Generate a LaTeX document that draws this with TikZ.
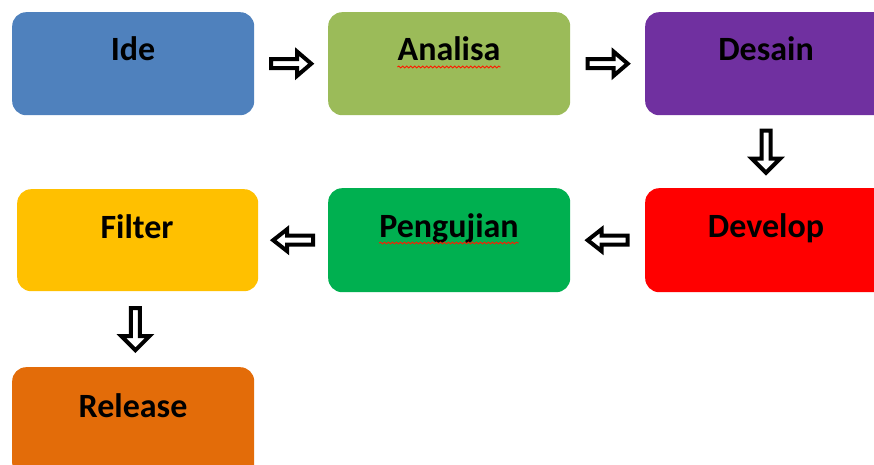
\documentclass[tikz,border=0pt]{standalone}
\usepackage{fontspec}
\setmainfont{Carlito}
\usetikzlibrary{calc,decorations.pathmorphing}

\definecolor{ideblue}{HTML}{4F81BD}
\definecolor{analisagreen}{HTML}{9BBB59}
\definecolor{desainpurple}{HTML}{7030A0}
\definecolor{developred}{HTML}{FF0000}
\definecolor{ujigreen}{HTML}{00B050}
\definecolor{filtergold}{HTML}{FFC000}
\definecolor{releaseorange}{HTML}{E36C09}

\tikzset{
  stage/.style={rounded corners=14pt, minimum width=242pt, minimum height=103pt,
    inner sep=0pt, anchor=north west},
  stagetext/.style={font=\fontsize{34}{40}\selectfont\bfseries, anchor=base,
    text=black, inner sep=0pt},
  flowarrow/.style={draw=black, line width=4pt, fill=white, line join=miter},
  spell/.style={draw=red!80!orange, line width=0.9pt, decorate,
    decoration={snake, amplitude=0.9pt, segment length=4pt}},
  % hollow block arrow; argument: half length, half head width
  pics/blockarrow/.style 2 args={code={
    \draw[flowarrow] (-#1,-4.5) -- (#1-14,-4.5) -- (#1-14,-#2) -- (#1,0)
      -- (#1-14,#2) -- (#1-14,4.5) -- (-#1,4.5) -- cycle;
  }}
}

\begin{document}
\begin{tikzpicture}[x=1pt, y=-1pt]
  \useasboundingbox (0,0) rectangle (874,465);
  \clip (0,0) rectangle (874,465);

  % stage boxes
  \node[stage, fill=ideblue] (ide) at (12,12) {};
  \node[stage, fill=analisagreen] (analisa) at (328,12) {};
  \node[stage, fill=desainpurple, minimum width=250pt] (desain) at (645,12) {};
  \node[stage, fill=developred, minimum width=250pt, minimum height=104pt] (develop) at (645,188) {};
  \node[stage, fill=ujigreen, minimum height=104pt] (pengujian) at (328,188) {};
  \node[stage, fill=filtergold, minimum width=241pt, minimum height=102pt] (filter) at (17,189) {};
  \node[stage, fill=releaseorange, minimum height=110pt] (release) at (12,367) {};

  % stage titles
  \node[stagetext] (idet) at ($(ide.north west)+(121,49)$) {Ide};
  \node[stagetext] (analisat) at ($(analisa.north west)+(121,49)$) {Analisa};
  \node[stagetext] (desaint) at ($(desain.north west)+(121,49)$) {Desain};
  \node[stagetext] (developt) at ($(develop.north west)+(121,49)$) {Develop};
  \node[stagetext] (pengujiant) at ($(pengujian.north west)+(121,49)$) {Pengujian};
  \node[stagetext] (filtert) at ($(filter.north west)+(120,49)$) {Filter};
  \node[stagetext] (releaset) at ($(release.north west)+(121,50)$) {Release};

  % spell-check underlines
  \draw[spell] ($(analisat.base west)+(0,6)$) -- ($(analisat.base east)+(0,6)$);
  \draw[spell] ($(pengujiant.base west)+(0,6)$) -- ($(pengujiant.base east)+(0,6)$);

  % flow arrows
  \pic (a1) at ($(ide.east)!0.5!(analisa.west)$) {blockarrow={20}{12}};
  \pic (a2) at ($(analisa.east)!0.5!(desain.west)$) {blockarrow={20}{12}};
  \pic[rotate=-90] (a3) at ($($(desain.south west)+(121,0)$)!0.5!($(develop.north west)+(121,0)$)$) {blockarrow={21}{14}};
  \pic[rotate=180] (a4) at ($(develop.west)!0.5!(pengujian.east)$) {blockarrow={20}{11}};
  \pic[rotate=180] (a5) at ($(pengujian.west)!0.5!(filter.east)$) {blockarrow={20}{11}};
  \pic[rotate=-90] (a6) at ($(filter.south)!0.5!(release.north)$) {blockarrow={21}{14}};
\end{tikzpicture}
\end{document}
